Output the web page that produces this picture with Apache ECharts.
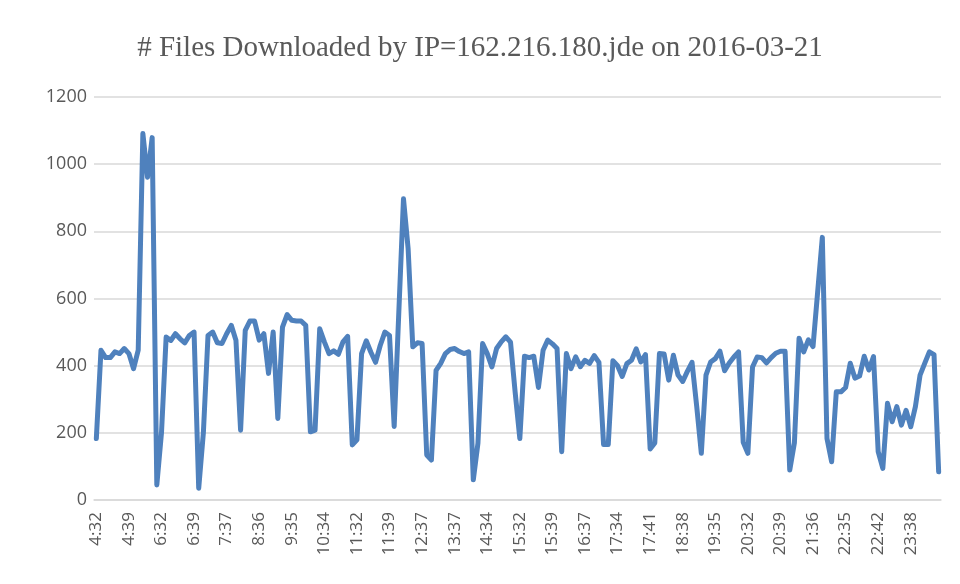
<!DOCTYPE html>
<html>
<head>
<meta charset="utf-8">
<script src="https://cdn.jsdelivr.net/npm/echarts@6/dist/echarts.min.js"></script>
<style>
  html, body { margin: 0; padding: 0; background: #fff; }
  #chart { width: 960px; height: 584px; }
</style>
</head>
<body>
<div id="chart"></div>
<script>
// downloads per sample
const downloads = [
  183, 446, 424, 424, 441, 436, 451, 436, 391, 446,
  1091, 961, 1079, 45, 200, 485, 475, 495, 480, 468,
  490, 500, 35, 200, 490, 500, 468, 466, 495, 520,
  476, 208, 505, 533, 533, 476, 495, 377, 500, 243,
  515, 552, 535, 533, 533, 520, 203, 208, 510, 471,
  436, 444, 434, 471, 487, 164, 179, 436, 474, 440,
  410, 460, 500, 490, 219, 560, 897, 748, 456, 468,
  466, 134, 119, 386, 407, 436, 448, 451, 442, 436,
  441, 60, 169, 466, 436, 396, 451, 471, 486, 470,
  320, 183, 428, 424, 428, 335, 446, 476, 465, 451,
  144, 436, 391, 426, 397, 416, 407, 430, 410, 165,
  165, 415, 400, 368, 406, 416, 450, 411, 433, 152,
  170, 436, 435, 357, 431, 372, 353, 383, 410, 280,
  139, 372, 411, 421, 443, 385, 408, 426, 441, 172,
  139, 396, 426, 424, 408, 424, 437, 443, 443, 89,
  170, 482, 441, 477, 457, 620, 782, 183, 114, 322,
  322, 335, 407, 363, 369, 428, 387, 427, 144, 94,
  288, 233, 278, 223, 267, 218, 278, 372, 407, 441,
  433, 84
];

// one label shown every 7 samples
const tickLabels = [
  "4:32", "4:39", "6:32", "6:39", "7:37", "8:36", "9:35", "10:34", "11:32",
  "11:39", "12:37", "13:37", "14:34", "15:32", "15:39", "16:37", "17:34",
  "17:41", "18:38", "19:35", "20:32", "20:39", "21:36", "22:35", "22:42", "23:38"
];
const labelStep = 7;

const categories = downloads.map((v, i) => String(i));

const chart = echarts.init(document.getElementById("chart"));
chart.setOption({
  animation: false,
  backgroundColor: "#fff",
  title: {
    text: "# Files Downloaded by IP=162.216.180.jde on 2016-03-21",
    left: "center",
    top: 29,
    textStyle: {
      fontFamily: "Liberation Serif",
      fontSize: 29,
      fontWeight: "normal",
      color: "#595959",
    },
  },
  grid: { left: 94, right: 19, top: 97, bottom: 84 },
  xAxis: {
    type: "category",
    data: categories,
    boundaryGap: true,
    axisLine: { lineStyle: { color: "#d9d9d9", width: 1.5 } },
    axisTick: { show: false },
    axisLabel: {
      interval: labelStep - 1,
      rotate: 90,
      margin: 12,
      fontFamily: "Open Sans",
      fontSize: 17,
      color: "#595959",
      formatter: (value, idx) => tickLabels[idx / labelStep] || "",
    },
  },
  yAxis: {
    type: "value",
    min: 0,
    max: 1200,
    interval: 200,
    axisLine: { show: false },
    axisTick: { show: false },
    axisLabel: {
      margin: 7,
      fontFamily: "Open Sans",
      fontSize: 18,
      color: "#595959",
      formatter: (v) => String(v),
    },
    splitLine: { lineStyle: { color: "#d9d9d9", width: 1.5 } },
  },
  series: [
    {
      type: "line",
      data: downloads,
      symbol: "none",
      lineStyle: { color: "#4f81bd", width: 5, join: "round", cap: "round" },
    },
  ],
});
</script>
</body>
</html>
